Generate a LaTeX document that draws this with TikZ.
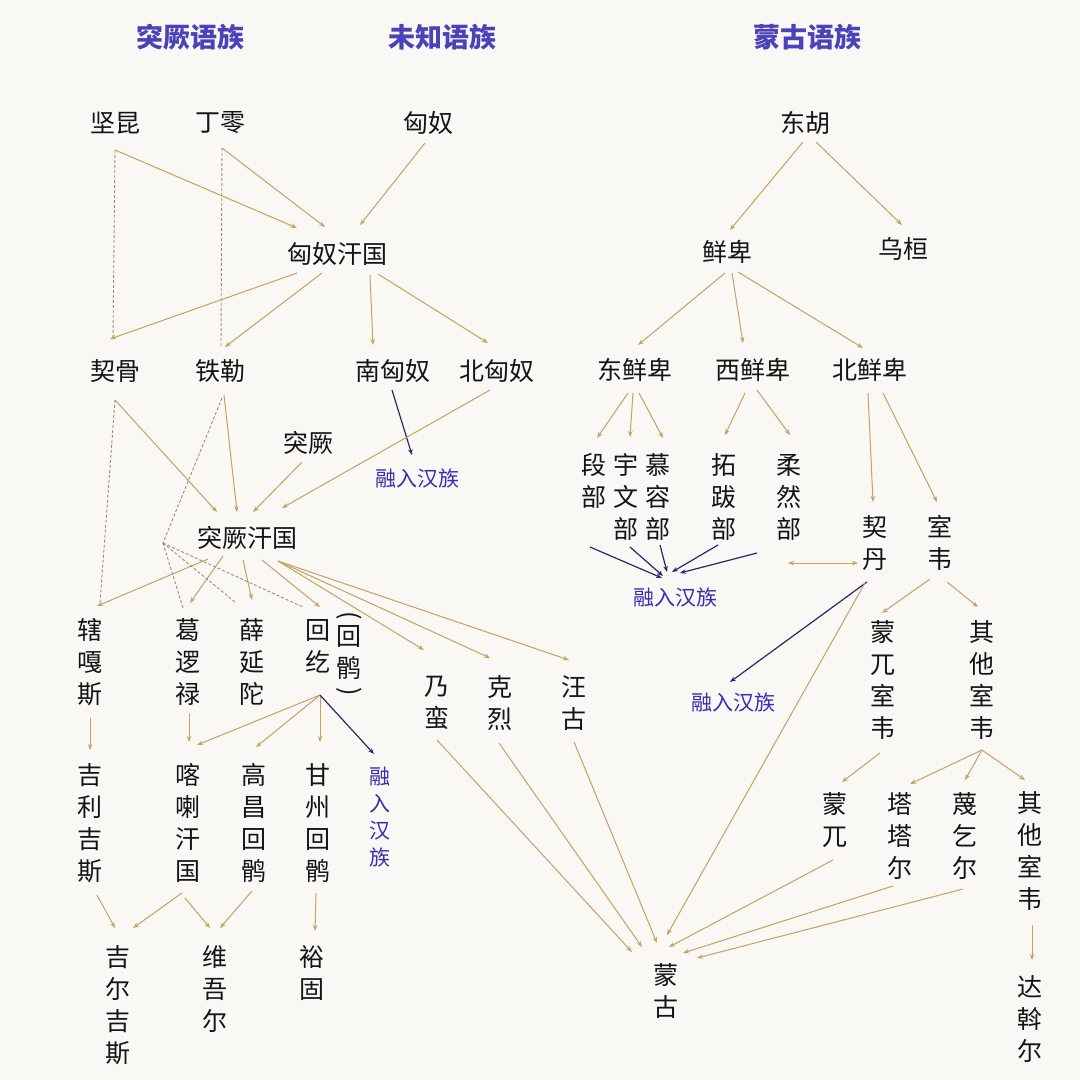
\documentclass[tikz,border=0pt]{standalone}
\usepackage{fontspec}
\newfontfamily\cjk{Noto Sans CJK SC}
\usetikzlibrary{arrows.meta}
\definecolor{paper}{RGB}{250,248,244}
\definecolor{ink}{RGB}{20,20,20}
\definecolor{linetan}{RGB}{199,160,98}
\definecolor{dashgrey}{RGB}{155,140,120}
\definecolor{sinkblue}{RGB}{40,40,110}
\definecolor{hanblue}{RGB}{55,45,175}
\definecolor{hdrblue}{RGB}{75,65,185}

\begin{document}
\begin{tikzpicture}[%
  x=1pt, y=-1pt,
  >={Stealth[length=6pt,width=4.5pt]},
  lbl/.style={font=\cjk\fontsize{25}{32}\selectfont, text=ink, inner sep=0pt, align=center},
  hdr/.style={font=\cjk\bfseries\fontsize{27}{27}\selectfont, text=hdrblue, inner sep=0pt},
  han/.style={font=\cjk\fontsize{21}{27}\selectfont, text=hanblue, inner sep=0pt, align=center},
  arr/.style={->, draw=linetan, line width=1pt},
  sink/.style={->, draw=sinkblue, line width=1.2pt},
  link/.style={draw=dashgrey, line width=0.9pt, dash pattern=on 3pt off 2pt},
]

  \fill[paper] (0,0) rectangle (1080,1080);
  \useasboundingbox (0,0) rectangle (1080,1080);

  % language families
  \node[hdr] (hTk) at (190,37) {突厥语族};
  \node[hdr] (hUk) at (442,37) {未知语族};
  \node[hdr] (hMg) at (807,37) {蒙古语族};

  % peoples
  \node[lbl] (jk) at (115,123) {坚昆};
  \node[lbl] (dl) at (220,123) {丁零};
  \node[lbl] (xn) at (428,123) {匈奴};
  \node[lbl] (dh) at (805,123) {东胡};
  \node[lbl] (hnhg) at (337,254) {匈奴汗国};
  \node[lbl] (xb) at (727,252) {鲜卑};
  \node[lbl] (wh) at (903,249) {乌桓};
  \node[lbl] (qg) at (115,371) {契骨};
  \node[lbl] (tl) at (220,371) {铁勒};
  \node[lbl] (nxn) at (393,371) {南匈奴};
  \node[lbl] (bxn) at (497,371) {北匈奴};
  \node[lbl] (dxb) at (635,370) {东鲜卑};
  \node[lbl] (xxb) at (753,370) {西鲜卑};
  \node[lbl] (bxb) at (870,370) {北鲜卑};
  \node[lbl] (tj) at (308,443) {突厥};
  \node[han] (rh1) at (417,478) {融入汉族};
  \node[lbl] (tjhg) at (247,538) {突厥汗国};

  \node[lbl] (dbu) at (594,481) {段\\部};
  \node[lbl] (ywb) at (626,497) {宇\\文\\部};
  \node[lbl] (mrb) at (658,497) {慕\\容\\部};
  \node[lbl] (tbb) at (724,497) {拓\\跋\\部};
  \node[lbl] (rrb) at (789,497) {柔\\然\\部};
  \node[han] (rh2) at (675,597) {融入汉族};
  \node[lbl] (qd) at (875,543) {契\\丹};
  \node[lbl] (sw) at (940,543) {室\\韦};

  \node[lbl] (xgs) at (90,662) {辖\\嘎\\斯};
  \node[lbl] (gll) at (188,662) {葛\\逻\\禄};
  \node[lbl] (xyt) at (252,662) {薛\\延\\陀};
  \node[lbl] (hh) at (318,646) {回\\纥};
  \node[lbl] (hgp) at (349,655) {\rotatebox[origin=c]{-90}{(}\\[-10pt]回\\鹘\\[-10pt]\rotatebox[origin=c]{-90}{)}};
  \node[lbl] (nm) at (437,703) {乃\\蛮};
  \node[lbl] (kl) at (500,703) {克\\烈};
  \node[lbl] (wg) at (574,703) {汪\\古};
  \node[han] (rh3) at (733,702) {融入汉族};
  \node[lbl] (mwsw) at (883,680) {蒙\\兀\\室\\韦};
  \node[lbl] (qtsw) at (982,680) {其\\他\\室\\韦};

  \node[lbl] (jljs) at (90,823) {吉\\利\\吉\\斯};
  \node[lbl] (klhg) at (188,823) {喀\\喇\\汗\\国};
  \node[lbl] (gchh) at (254,823) {高\\昌\\回\\鹘};
  \node[lbl] (gzhh) at (318,823) {甘\\州\\回\\鹘};
  \node[han] (rh4) at (380,817) {融\\入\\汉\\族};
  \node[lbl] (mw) at (835,820) {蒙\\兀};
  \node[lbl] (tte) at (900,836) {塔\\塔\\尔};
  \node[lbl] (mqe) at (965,836) {蔑\\乞\\尔};
  \node[lbl] (qtsw2) at (1030,851) {其\\他\\室\\韦};

  \node[lbl] (jejs) at (118,1005) {吉\\尔\\吉\\斯};
  \node[lbl] (wwe) at (215,989) {维\\吾\\尔};
  \node[lbl] (yg) at (312,973) {裕\\固};
  \node[lbl] (mg) at (666,991) {蒙\\古};
  \node[lbl] (dwe) at (1030,1019) {达\\斡\\尔};

  \coordinate (tjJ) at (163,543);
  \coordinate (qdL) at (788,563);

  % Xiongnu
  \draw[arr] ([shift={(0,27)}]jk.center) -- ([shift={(-40,-26)}]hnhg.center);
  \draw[arr] ([shift={(2,25)}]dl.center) -- ([shift={(-12,-27)}]hnhg.center);
  \draw[arr] ([shift={(-3,20)}]xn.center) -- ([shift={(23,-29)}]hnhg.center);
  \draw[link] ([shift={(0,27)}]jk.center) -- ([shift={(-2,-33)}]qg.center);
  \draw[link] ([shift={(2,25)}]dl.center) -- ([shift={(1,-24)}]tl.center);
  \draw[arr] ([shift={(-40,19)}]hnhg.center) -- ([shift={(-5,-32)}]qg.center);
  \draw[arr] ([shift={(-15,19)}]hnhg.center) -- ([shift={(5,-24)}]tl.center);
  \draw[arr] ([shift={(33,21)}]hnhg.center) -- ([shift={(-20,-26)}]nxn.center);
  \draw[arr] ([shift={(41,20)}]hnhg.center) -- ([shift={(-9,-28)}]bxn.center);
  \draw[sink] ([shift={(-1,19)}]nxn.center) -- ([shift={(-5,-23)}]rh1.center);

  % Donghu
  \draw[arr] ([shift={(-2,19)}]dh.center) -- ([shift={(3,-22)}]xb.center);
  \draw[arr] ([shift={(11,19)}]dh.center) -- ([shift={(-1,-24)}]wh.center);
  \draw[arr] ([shift={(-2,21)}]xb.center) -- ([shift={(3,-25)}]dxb.center);
  \draw[arr] ([shift={(5,21)}]xb.center) -- ([shift={(-10,-27)}]xxb.center);
  \draw[arr] ([shift={(11,20)}]xb.center) -- ([shift={(-7,-22)}]bxb.center);
  \draw[arr] ([shift={(-7,23)}]dxb.center) -- ([shift={(3,-43)}]dbu.center);
  \draw[arr] ([shift={(-2,23)}]dxb.center) -- ([shift={(4,-60)}]ywb.center);
  \draw[arr] ([shift={(4,23)}]dxb.center) -- ([shift={(5,-59)}]mrb.center);
  \draw[arr] ([shift={(-8,23)}]xxb.center) -- ([shift={(1,-62)}]tbb.center);
  \draw[arr] ([shift={(4,20)}]xxb.center) -- ([shift={(1,-62)}]rrb.center);
  \draw[arr] ([shift={(-2,23)}]bxb.center) -- ([shift={(-2,-41)}]qd.center);
  \draw[arr] ([shift={(13,23)}]bxb.center) -- ([shift={(-3,-41)}]sw.center);
  \draw[sink] ([shift={(-4,66)}]dbu.center) -- ([shift={(-13,-19)}]rh2.center);
  \draw[sink] ([shift={(4,50)}]ywb.center) -- ([shift={(-12,-21)}]rh2.center);
  \draw[sink] ([shift={(2,48)}]mrb.center) -- ([shift={(-8,-25)}]rh2.center);
  \draw[sink] ([shift={(-6,48)}]tbb.center) -- ([shift={(-3,-25)}]rh2.center);
  \draw[sink] ([shift={(-32,56)}]rrb.center) -- ([shift={(5,-24)}]rh2.center);
  \draw[arr,<->] (qdL) -- ([shift={(-17,20)}]qd.center);
  \draw[sink] ([shift={(-8,39)}]qd.center) -- ([shift={(-3,-20)}]rh3.center);
  \draw[arr] ([shift={(-10,40)}]qd.center) -- ([shift={(1,-56)}]mg.center);
  \draw[arr] ([shift={(-10,36)}]sw.center) -- ([shift={(-1,-67)}]mwsw.center);
  \draw[arr] ([shift={(7,39)}]sw.center) -- ([shift={(-4,-73)}]qtsw.center);
  \draw[arr] ([shift={(-3,73)}]mwsw.center) -- ([shift={(7,-38)}]mw.center);
  \draw[arr] ([shift={(0,70)}]qtsw.center) -- ([shift={(10,-52)}]tte.center);
  \draw[arr] ([shift={(0,70)}]qtsw.center) -- ([shift={(0,-56)}]mqe.center);
  \draw[arr] ([shift={(0,70)}]qtsw.center) -- ([shift={(-5,-71)}]qtsw2.center);
  \draw[arr] ([shift={(2,74)}]qtsw2.center) -- ([shift={(2,-59)}]dwe.center);

  % into Mongol
  \draw[arr] ([shift={(0,37)}]nm.center) -- ([shift={(-34,-39)}]mg.center);
  \draw[arr] ([shift={(-1,40)}]kl.center) -- ([shift={(-24,-44)}]mg.center);
  \draw[arr] ([shift={(0,39)}]wg.center) -- ([shift={(-9,-48)}]mg.center);
  \draw[arr] ([shift={(-2,40)}]mw.center) -- ([shift={(3,-44)}]mg.center);
  \draw[arr] ([shift={(-7,50)}]tte.center) -- ([shift={(17,-38)}]mg.center);
  \draw[arr] ([shift={(-2,53)}]mqe.center) -- ([shift={(31,-33)}]mg.center);

  % Turkic khaganate
  \draw[arr] ([shift={(0,29)}]qg.center) -- ([shift={(-30,-26)}]tjhg.center);
  \draw[link] ([shift={(0,29)}]qg.center) -- ([shift={(10,-59)}]xgs.center);
  \draw[arr] ([shift={(4,24)}]tl.center) -- ([shift={(-10,-26)}]tjhg.center);
  \draw[link] ([shift={(2,27)}]tl.center) -- (tjJ);
  \draw[arr] ([shift={(-6,19)}]tj.center) -- ([shift={(6,-26)}]tjhg.center);
  \draw[arr] ([shift={(-7,19)}]bxn.center) -- ([shift={(35,-30)}]tjhg.center);
  \draw[arr] ([shift={(-39,21)}]tjhg.center) -- ([shift={(7,-56)}]xgs.center);
  \draw[arr] ([shift={(-24,18)}]tjhg.center) -- ([shift={(2,-59)}]gll.center);
  \draw[arr] ([shift={(-4,22)}]tjhg.center) -- ([shift={(0,-62)}]xyt.center);
  \draw[arr] ([shift={(15,22)}]tjhg.center) -- ([shift={(2,-39)}]hh.center);
  \draw[arr] ([shift={(31,23)}]tjhg.center) -- ([shift={(-13,-53)}]nm.center);
  \draw[arr] ([shift={(31,23)}]tjhg.center) -- ([shift={(-10,-45)}]kl.center);
  \draw[arr] ([shift={(31,23)}]tjhg.center) -- ([shift={(-5,-43)}]wg.center);
  \draw[link] (tjJ) -- ([shift={(-5,-54)}]gll.center);
  \draw[link] (tjJ) -- ([shift={(-17,-60)}]xyt.center);
  \draw[link] (tjJ) -- ([shift={(-15,-39)}]hh.center);

  % later peoples
  \draw[arr] ([shift={(0,56)}]xgs.center) -- ([shift={(0,-73)}]jljs.center);
  \draw[arr] ([shift={(1,51)}]gll.center) -- ([shift={(1,-81)}]klhg.center);
  \draw[arr] ([shift={(2,49)}]hh.center) -- ([shift={(9,-78)}]klhg.center);
  \draw[arr] ([shift={(2,49)}]hh.center) -- ([shift={(2,-76)}]gchh.center);
  \draw[arr] ([shift={(2,49)}]hh.center) -- ([shift={(2,-81)}]gzhh.center);
  \draw[sink] ([shift={(2,49)}]hh.center) -- ([shift={(-6,-63)}]rh4.center);
  \draw[arr] ([shift={(7,72)}]jljs.center) -- ([shift={(-3,-77)}]jejs.center);
  \draw[arr] ([shift={(-6,70)}]klhg.center) -- ([shift={(15,-77)}]jejs.center);
  \draw[arr] ([shift={(-3,75)}]klhg.center) -- ([shift={(-5,-61)}]wwe.center);
  \draw[arr] ([shift={(-2,68)}]gchh.center) -- ([shift={(5,-61)}]wwe.center);
  \draw[arr] ([shift={(-2,70)}]gzhh.center) -- ([shift={(3,-42)}]yg.center);

\end{tikzpicture}
\end{document}
